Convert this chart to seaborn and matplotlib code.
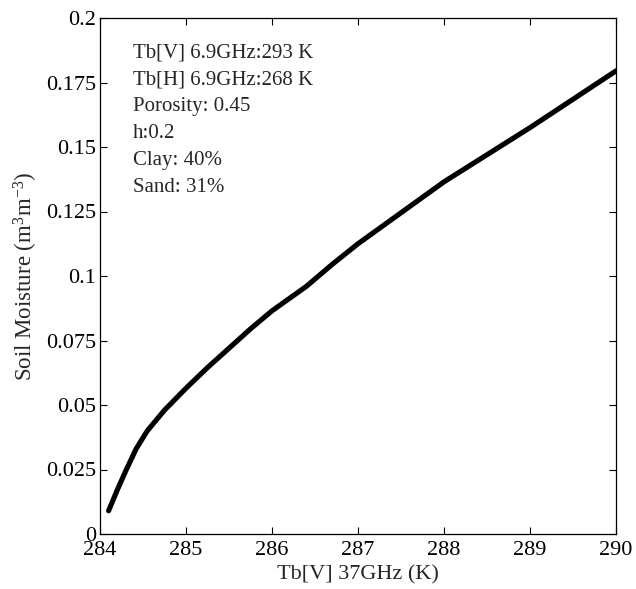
import matplotlib
matplotlib.use('Agg')
import matplotlib.pyplot as plt
import seaborn as sns
import pandas as pd

# ===== DATA =====
tb37 = [284.10, 284.20, 284.30, 284.42, 284.55, 284.75, 285.00, 285.25,
        285.50, 285.75, 286.00, 286.40, 286.70, 287.00, 287.25, 287.50,
        288.00, 288.50, 289.00, 289.50, 290.00]
soil_moisture = [0.0090, 0.0170, 0.0245, 0.0330, 0.0400, 0.0480, 0.0565, 0.0645,
                 0.0720, 0.0795, 0.0865, 0.0960, 0.1045, 0.1125, 0.1185, 0.1245,
                 0.1365, 0.1470, 0.1575, 0.1685, 0.1795]
x_ticks = [284, 285, 286, 287, 288, 289, 290]
y_ticks = [0, 0.025, 0.05, 0.075, 0.1, 0.125, 0.15, 0.175, 0.2]
y_tick_labels = ['0', '0.025', '0.05', '0.075', '0.1', '0.125', '0.15', '0.175', '0.2']
info_lines = ['Tb[V] 6.9GHz:293 K', 'Tb[H] 6.9GHz:268 K', 'Porosity: 0.45',
              'h:0.2', 'Clay: 40%', 'Sand: 31%']

df = pd.DataFrame({'tb37': tb37, 'sm': soil_moisture})

# ===== STYLE =====
sns.set_style('ticks')
plt.rcParams['font.family'] = ['Liberation Serif', 'DejaVu Serif']
plt.rcParams['mathtext.fontset'] = 'custom'
plt.rcParams['mathtext.rm'] = 'Liberation Serif'
plt.rcParams['mathtext.it'] = 'Liberation Serif:italic'

fig = plt.figure(figsize=(6.36, 5.89), dpi=100)
ax = fig.add_axes([100 / 636, 55 / 589, 516 / 636, 516 / 589])

sns.lineplot(data=df, x='tb37', y='sm', color='black', linewidth=3.7, ax=ax)

ax.set_xlim(284, 290)
ax.set_ylim(0, 0.2)
ax.set_xticks(x_ticks)
ax.set_xticklabels([str(t) for t in x_ticks])
ax.set_yticks(y_ticks)
ax.set_yticklabels(y_tick_labels)
ax.tick_params(direction='in', top=True, right=True, length=5, width=0.8,
               labelsize=16, colors='black', pad=3)
ax.tick_params(axis='x', pad=5)
for s in ax.spines.values():
    s.set_linewidth(0.9)
    s.set_color('black')

ax.set_xlabel('Tb[V] 37GHz (K)', fontsize=16, labelpad=4)
ax.set_ylabel('Soil Moisture (m$^3$m$^{-3}$)', fontsize=16.5, labelpad=4)

ax.text(0.064, 0.951, '\n'.join(info_lines), transform=ax.transAxes,
        fontsize=15, va='top', ha='left', linespacing=1.57)

fig.savefig('out.png', dpi=100)
